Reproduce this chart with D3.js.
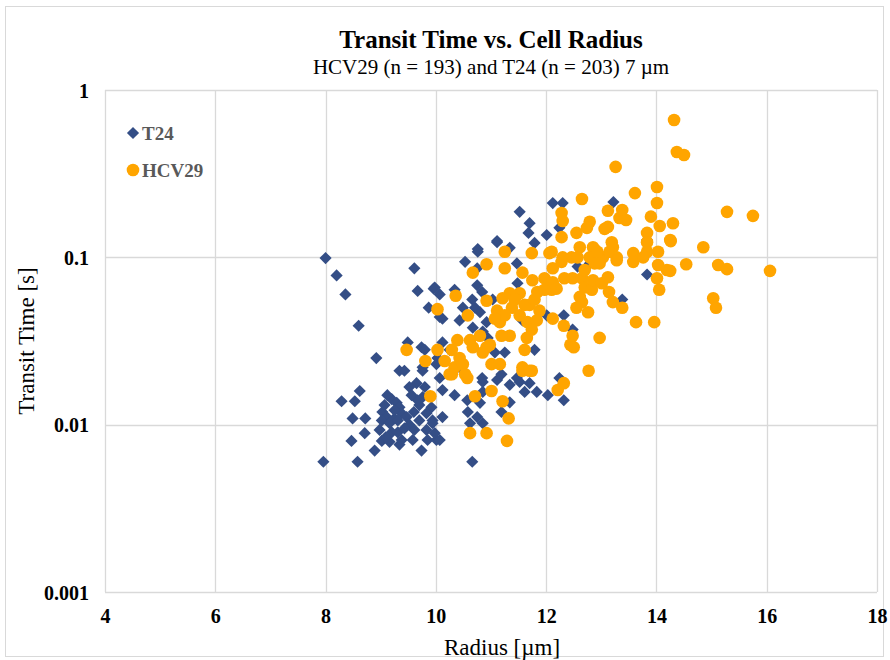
<!DOCTYPE html>
<html>
<head>
<meta charset="utf-8">
<script src="https://cdnjs.cloudflare.com/ajax/libs/d3/7.8.5/d3.min.js"></script>
<style>
  body { margin: 0; background: #fff; }
  text { font-family: "Liberation Serif", "Times New Roman", serif; }
</style>
</head>
<body>
<div id="viz"></div>
<script>
'use strict';

// [radius (um), transit time (s)]
var t24Points = [
  [8.00,0.099],[8.20,0.078],[8.36,0.060],[8.60,0.039],[8.92,0.025],[9.34,0.021],[9.43,0.021],
  [9.61,0.086],[9.67,0.063],[9.87,0.050],[9.96,0.065],[9.49,0.031],[9.74,0.029],[9.80,0.028],
  [9.76,0.022],[10.03,0.025],[10.07,0.044],[8.29,0.0138],[8.62,0.0159],[8.53,0.0138],[8.49,0.0109],
  [8.72,0.0109],[8.71,0.0089],[8.47,0.0080],[8.89,0.0070],[7.96,0.0060],[8.58,0.0060],[9.20,0.0142],
  [9.29,0.0135],[9.34,0.0127],[9.03,0.0119],[9.11,0.0111],[9.02,0.0106],[9.16,0.0102],[9.25,0.0109],
  [9.38,0.0117],[9.47,0.0111],[9.20,0.0090],[9.31,0.0090],[9.02,0.0080],[9.16,0.0079],[9.38,0.0081],
  [9.58,0.0081],[9.70,0.0106],[9.70,0.0131],[9.65,0.0177],[9.80,0.0168],[9.76,0.0146],[9.92,0.0127],
  [9.83,0.0117],[9.94,0.0106],[9.83,0.0093],[9.74,0.0070],[9.85,0.0081],[10.01,0.0081],[9.76,0.021],
  [9.52,0.0168],[9.98,0.0089],[9.07,0.0131],[9.12,0.0150],[9.25,0.0122],[9.52,0.0100],[9.61,0.0093],
  [9.43,0.0095],[9.31,0.0106],[8.98,0.0093],[9.09,0.0084],[9.34,0.0076],[9.60,0.0119],[9.67,0.0140],
  [9.56,0.0150],
  [10.07,0.019],[10.12,0.0161],[10.34,0.0150],[10.57,0.0140],[10.80,0.0135],[10.58,0.0119],[10.75,0.0111],
  [10.85,0.0102],[10.62,0.0102],[10.12,0.0111],[9.94,0.0102],[10.07,0.0081],[10.66,0.0060],[10.85,0.018],
  [11.11,0.0185],[11.34,0.0173],[11.52,0.018],[11.70,0.0177],[11.61,0.0157],[11.83,0.0157],[12.03,0.0150],
  [11.34,0.0136],[11.19,0.0119],[10.85,0.0157],[10.49,0.021],
  [10.76,0.108],[11.11,0.123],[11.34,0.114],[11.79,0.122],[10.53,0.094],[10.75,0.086],[11.47,0.092],
  [10.75,0.068],[10.84,0.062],[9.98,0.066],[10.07,0.060],[10.34,0.064],[10.49,0.050],[10.66,0.056],
  [10.71,0.050],[11.03,0.056],[10.80,0.047],[10.12,0.043],[10.43,0.042],[10.92,0.041],[10.67,0.038],
  [10.85,0.036],[10.94,0.033],[11.07,0.027],[11.25,0.027],[10.12,0.031],[10.25,0.028],[10.01,0.023],
  [10.84,0.019],[11.19,0.020],[11.47,0.019],[11.57,0.042],[12.01,0.045],[11.79,0.028],[11.48,0.070],
  [12.12,0.211],[12.30,0.211],[11.52,0.187],[11.70,0.160],[11.68,0.140],[12.01,0.136],[13.22,0.214],
  [12.24,0.150],[13.83,0.127],[11.11,0.125],[10.76,0.112],
  [12.57,0.088],[12.79,0.092],[13.83,0.079],[13.38,0.056],[12.32,0.045],[12.48,0.037],[12.24,0.019],
  [12.32,0.014]
];

var hcv29Points = [
  [9.47,0.028],[9.81,0.024],[10.03,0.049],[10.03,0.028],[9.90,0.0148],
  [10.29,0.020],[10.57,0.019],[10.71,0.0148],[11.01,0.0159],[11.21,0.0138],[11.32,0.0109],[10.62,0.0089],
  [10.92,0.0089],[11.29,0.0080],[11.57,0.021],[11.74,0.021],[12.21,0.0161],
  [11.25,0.108],[10.92,0.091],[10.67,0.081],[11.25,0.086],[11.74,0.106],[12.06,0.106],[11.57,0.081],
  [11.75,0.073],[11.97,0.075],[10.36,0.059],[10.58,0.045],[10.92,0.055],[11.11,0.048],[11.21,0.057],
  [11.34,0.061],[11.52,0.061],[11.38,0.050],[11.70,0.052],[11.84,0.062],[11.88,0.048],[11.66,0.041],
  [11.83,0.042],[11.74,0.037],[11.65,0.033],[11.34,0.034],[11.16,0.041],[11.19,0.034],[10.92,0.029],
  [10.67,0.029],[10.85,0.027],[10.43,0.025],[10.29,0.028],[10.34,0.022],[10.49,0.023],[11.01,0.023],
  [11.16,0.023],[10.25,0.020],[10.53,0.020],[11.61,0.028],[12.12,0.043],[11.57,0.022],[11.70,0.021],
  [11.43,0.056],[11.25,0.045],[11.52,0.045],[11.61,0.052],[11.79,0.056],[11.97,0.064],[11.07,0.043],
  [10.80,0.034],[10.62,0.032],[10.39,0.032],[10.16,0.024],[10.98,0.030],
  [13.26,0.347],[12.65,0.223],[13.61,0.242],[14.01,0.263],[14.01,0.211],[13.12,0.190],[13.38,0.192],
  [13.33,0.172],[13.45,0.167],[13.90,0.175],[12.28,0.184],[12.30,0.165],[12.79,0.163],[12.74,0.150],
  [13.06,0.148],[13.12,0.152],[12.55,0.140],[12.28,0.132],[14.06,0.154],[14.30,0.160],[13.83,0.140],
  [13.83,0.123],[14.25,0.127],[13.19,0.123],[13.21,0.115],[12.61,0.115],[12.85,0.115],[12.88,0.111],
  [13.58,0.106],[14.03,0.108],[13.83,0.108],[13.28,0.100],[12.10,0.108],[12.30,0.100],[12.46,0.100],
  [12.57,0.100],[13.03,0.100],
  [12.28,0.094],[12.79,0.100],[12.93,0.108],[13.15,0.108],[13.28,0.096],[13.58,0.094],[13.76,0.100],
  [14.03,0.090],[14.19,0.084],[14.01,0.075],[14.05,0.064],[12.12,0.086],[12.12,0.071],[12.10,0.064],
  [12.19,0.065],[12.33,0.075],[12.48,0.075],[12.65,0.075],[12.70,0.084],[12.88,0.092],[12.97,0.092],
  [12.70,0.066],[12.83,0.064],[12.85,0.073],[13.01,0.070],[13.12,0.076],[13.14,0.062],[13.21,0.054],
  [13.38,0.050],[12.61,0.058],[12.65,0.054],[12.55,0.050],[12.76,0.047],[12.32,0.039],[12.48,0.034],
  [12.44,0.030],[12.50,0.029],[12.97,0.033],[13.63,0.041],[13.96,0.041],[12.77,0.021],[12.32,0.0177],
  [14.32,0.662],[14.37,0.426],[14.50,0.409],[15.28,0.187],[15.75,0.177],[14.26,0.125],[14.85,0.115],
  [14.54,0.091],[15.12,0.090],[15.28,0.085],[14.25,0.083],[16.06,0.083],[15.03,0.057],[15.08,0.050]
];

var xTicks = [4, 6, 8, 10, 12, 14, 16, 18];
var yTicks = [0.001, 0.01, 0.1, 1];
var yTickLabels = ['0.001', '0.01', '0.1', '1'];

var W = 890, H = 660;
var plotLeft = 105, plotRight = 877, plotTop = 90, plotBottom = 592;
var blue = '#344e86', orange = '#ffa500';

var svg = d3.select('#viz').append('svg')
    .attr('width', W)
    .attr('height', H);

// chart frame
svg.append('rect')
    .attr('x', 5.5).attr('y', 6.5)
    .attr('width', 878).attr('height', 650)
    .style('fill', 'white')
    .style('stroke', '#d9d9d9');

var x = d3.scaleLinear().domain([4, 18]).range([plotLeft, plotRight]);
var y = d3.scaleLog().domain([0.001, 1]).range([plotBottom, plotTop]);

// gridlines
svg.append('g').selectAll('line').data(xTicks).enter().append('line')
    .attr('x1', function(d) { return Math.round(x(d)) + 0.5; })
    .attr('x2', function(d) { return Math.round(x(d)) + 0.5; })
    .attr('y1', plotTop).attr('y2', plotBottom)
    .style('stroke', '#d9d9d9').style('stroke-width', 1.3);
svg.append('g').selectAll('line').data(yTicks).enter().append('line')
    .attr('y1', function(d) { return Math.round(y(d)) + 0.5; })
    .attr('y2', function(d) { return Math.round(y(d)) + 0.5; })
    .attr('x1', plotLeft).attr('x2', plotRight)
    .style('stroke', '#d9d9d9').style('stroke-width', 1.3);

// axes (labels only, Excel style)
var xAxis = svg.append('g')
    .attr('transform', 'translate(0,' + (plotBottom + 10) + ')')
    .call(d3.axisBottom(x).tickValues(xTicks).tickSize(0).tickFormat(d3.format('d')));
var yAxis = svg.append('g')
    .attr('transform', 'translate(' + (plotLeft - 16) + ',0)')
    .call(d3.axisLeft(y).tickValues(yTicks).tickSize(0)
      .tickFormat(function(d, i) { return yTickLabels[i]; }));
[xAxis, yAxis].forEach(function(a) {
    a.select('.domain').remove();
    a.selectAll('text')
      .style('font-family', '"Liberation Serif", serif')
      .style('font-size', '20px')
      .style('font-weight', 'bold')
      .style('fill', '#000');
});
xAxis.selectAll('text').attr('dy', '0.9em');
yAxis.selectAll('text').attr('x', 0).attr('dy', '0.36em');

// series
var diamond = d3.symbol().type(d3.symbolSquare).size(74);
svg.append('g').selectAll('path').data(t24Points).enter().append('path')
    .attr('d', diamond)
    .attr('transform', function(d) {
      return 'translate(' + x(d[0]) + ',' + y(d[1]) + ') rotate(45)';
    })
    .style('fill', blue);

svg.append('g').selectAll('circle').data(hcv29Points).enter().append('circle')
    .attr('cx', function(d) { return x(d[0]); })
    .attr('cy', function(d) { return y(d[1]); })
    .attr('r', 6.3)
    .style('fill', orange);

// titles
svg.append('text')
    .attr('x', 491).attr('y', 48)
    .attr('text-anchor', 'middle')
    .style('font-size', '25px').style('font-weight', 'bold')
    .text('Transit Time vs. Cell Radius');
svg.append('text')
    .attr('x', 491).attr('y', 74)
    .attr('text-anchor', 'middle')
    .style('font-size', '21px')
    .text('HCV29 (n = 193) and T24 (n = 203) 7 \u00b5m');
svg.append('text')
    .attr('x', 502).attr('y', 655)
    .attr('text-anchor', 'middle')
    .style('font-size', '23px')
    .text('Radius [\u00b5m]');
svg.append('text')
    .attr('transform', 'translate(34,' + ((plotTop + plotBottom) / 2) + ') rotate(-90)')
    .attr('text-anchor', 'middle')
    .style('font-size', '23px')
    .text('Transit Time [s]');

// legend
var legend = svg.append('g');
legend.append('path')
    .attr('d', diamond)
    .attr('transform', 'translate(133,133) rotate(45)')
    .style('fill', blue);
legend.append('circle')
    .attr('cx', 133).attr('cy', 170).attr('r', 6.3)
    .style('fill', orange);
legend.selectAll('text').data(['T24', 'HCV29']).enter().append('text')
    .attr('x', 142)
    .attr('y', function(d, i) { return 140 + i * 37; })
    .style('font-size', '19px').style('font-weight', 'bold')
    .style('fill', '#595959')
    .text(function(d) { return d; });
</script>
</body>
</html>
